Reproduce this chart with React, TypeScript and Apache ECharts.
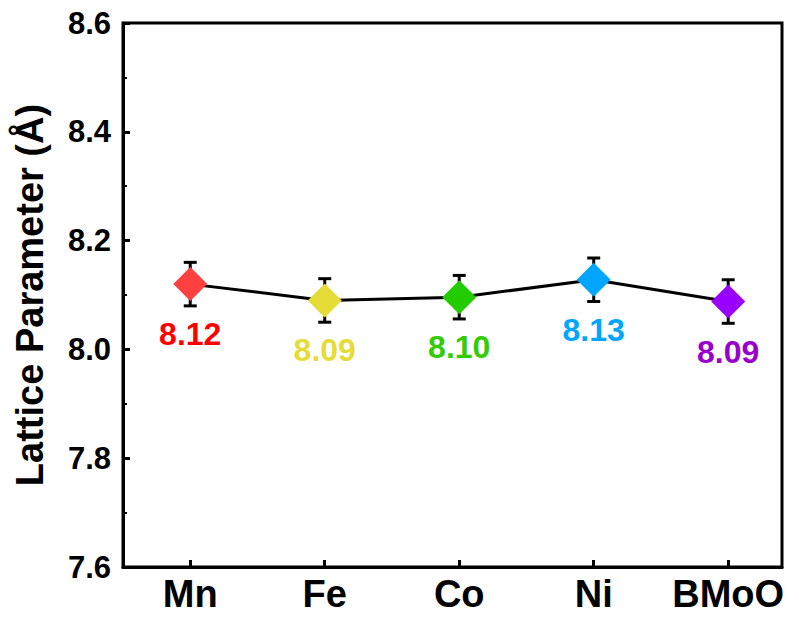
import React, { useEffect, useRef } from "react";
import * as echarts from "echarts";

const categories = ["Mn", "Fe", "Co", "Ni", "BMoO"];
const values = [8.12, 8.09, 8.096, 8.128, 8.088];
const errors = [0.04, 0.04, 0.04, 0.04, 0.04];
const labelTexts = ["8.12", "8.09", "8.10", "8.13", "8.09"];
const markerColors = ["#FF4040", "#E6DC37", "#22CC00", "#00A6FF", "#9900FF"];
const labelColors = ["#FF0000", "#E6DC37", "#33CC00", "#00A6FF", "#9900CC"];
const yTicks = [7.6, 7.8, 8.0, 8.2, 8.4, 8.6];

export default function App() {
  const ref = useRef<HTMLDivElement>(null);
  useEffect(() => {
    document.body.style.margin = "0";
    const chart = echarts.init(ref.current!, null, { renderer: "svg" });
    const font = "Arial, 'Liberation Sans', sans-serif";
    const xs = categories.map((_, i) => i + 1);
    chart.setOption({
      animation: false,
      backgroundColor: "#fff",
      grid: {
        left: 123,
        right: 17,
        top: 23,
        bottom: 56,
        show: true,
        borderColor: "#000",
        borderWidth: 3,
        backgroundColor: "transparent",
      },
      xAxis: {
        type: "value",
        min: 0.5,
        max: 5.4,
        splitLine: { show: false },
        axisLine: { show: true, lineStyle: { color: "#000", width: 3 } },
        axisTick: { show: true, inside: true, length: 7, lineStyle: { color: "#000", width: 3 }, customValues: xs },
        axisLabel: {
          customValues: xs,
          formatter: (v: number) => categories[Math.round(v) - 1] ?? "",
          fontSize: 38,
          fontWeight: "bold",
          color: "#000",
          fontFamily: font,
          margin: 8,
        },
      },
      yAxis: {
        type: "value",
        min: yTicks[0],
        max: yTicks[yTicks.length - 1],
        interval: 0.2,
        name: "Lattice Parameter (Å)",
        nameLocation: "middle",
        nameRotate: 90,
        nameGap: 74,
        nameTextStyle: { fontSize: 38, fontWeight: "bold", color: "#000", fontFamily: font },
        splitLine: { show: false },
        axisLine: { show: true, lineStyle: { color: "#000", width: 3 } },
        axisTick: { show: true, inside: true, length: 7, lineStyle: { color: "#000", width: 3 } },
        minorTick: { show: true, splitNumber: 2, length: 4, lineStyle: { color: "#000", width: 2 } },
        axisLabel: {
          formatter: (v: number) => v.toFixed(1),
          fontSize: 31,
          fontWeight: "bold",
          color: "#000",
          fontFamily: font,
          margin: 12,
        },
      },
      series: [
        {
          type: "custom",
          z: 1,
          data: xs.map((x, i) => [x, values[i] - errors[i], values[i] + errors[i]]),
          renderItem: (params: any, api: any) => {
            const x = api.value(0);
            const lo = api.coord([x, api.value(1)]);
            const hi = api.coord([x, api.value(2)]);
            const w = 6.5;
            const style = { stroke: "#000", lineWidth: 3 };
            return {
              type: "group",
              children: [
                { type: "line", shape: { x1: lo[0], y1: lo[1], x2: hi[0], y2: hi[1] }, style },
                { type: "line", shape: { x1: lo[0] - w, y1: lo[1], x2: lo[0] + w, y2: lo[1] }, style },
                { type: "line", shape: { x1: hi[0] - w, y1: hi[1], x2: hi[0] + w, y2: hi[1] }, style },
              ],
            };
          },
        },
        {
          type: "line",
          z: 3,
          symbol: "diamond",
          symbolSize: 34,
          lineStyle: { color: "#000", width: 3 },
          data: xs.map((x, i) => ({
            value: [x, values[i]],
            itemStyle: { color: markerColors[i] },
            label: {
              show: true,
              position: "bottom",
              distance: 17,
              formatter: labelTexts[i],
              color: labelColors[i],
              fontSize: 32,
              fontWeight: "bold",
              fontFamily: font,
            },
          })),
        },
      ],
    });
    return () => chart.dispose();
  }, []);
  return <div ref={ref} style={{ width: 799, height: 623 }} />;
}
